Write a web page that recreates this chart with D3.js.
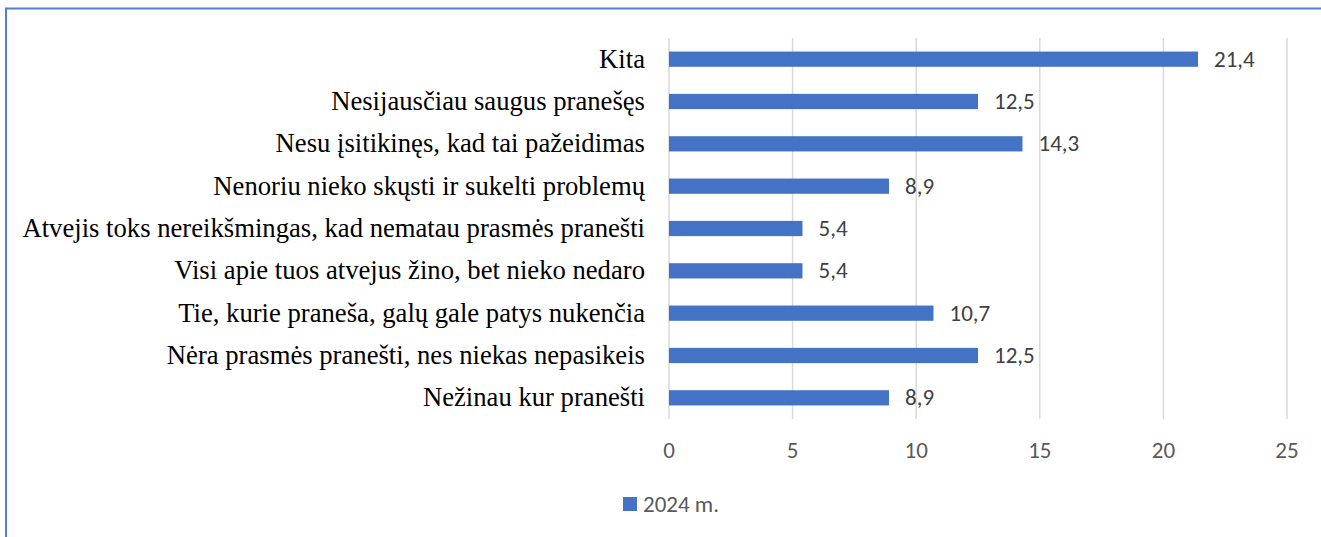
<!DOCTYPE html>
<html><head><meta charset="utf-8">
<script src="https://cdn.jsdelivr.net/npm/d3@7"></script>
<style>body{margin:0;background:#fff;}svg{display:block;}</style>
</head><body>
<script>
const categories = ["Kita","Nesijausčiau saugus pranešęs","Nesu įsitikinęs, kad tai pažeidimas","Nenoriu nieko skųsti ir sukelti problemų","Atvejis toks nereikšmingas, kad nematau prasmės pranešti","Visi apie tuos atvejus žino, bet nieko nedaro","Tie, kurie praneša, galų gale patys nukenčia","Nėra prasmės pranešti, nes niekas nepasikeis","Nežinau kur pranešti"];
const values = [21.4,12.5,14.3,8.9,5.4,5.4,10.7,12.5,8.9];
const tickValues = [0,5,10,15,20,25];
const seriesName = "2024 m.";

const SERIF='"Liberation Serif"';
const SANS='"Carlito"';
const W=1321,H=537;
const svg=d3.select("body").append("svg").attr("width",W).attr("height",H);
svg.append("rect").attr("x",6).attr("y",8.5).attr("width",W+20).attr("height",H+20)
  .attr("fill","none").attr("stroke","#4F7FD0").attr("stroke-width",2);

const x=d3.scaleLinear().domain([0,25]).range([669,1287]);
const y=d3.scaleBand().domain(categories).range([38,419]).paddingInner(0.64).paddingOuter(0.32);

svg.append("g").selectAll("line").data(tickValues).join("line")
  .attr("x1",d=>x(d)).attr("x2",d=>x(d)).attr("y1",38).attr("y2",419)
  .attr("stroke","#d9d9d9").attr("stroke-width",1.5);

svg.append("g").selectAll("rect").data(values).join("rect")
  .attr("x",x(0)).attr("y",(d,i)=>y(categories[i])).attr("width",d=>x(d)-x(0))
  .attr("height",y.bandwidth()).attr("fill","#4472C4");

svg.append("g").selectAll("text").data(values).join("text")
  .style("font-family",SANS)
  .attr("x",d=>x(d)+16).attr("y",(d,i)=>y(categories[i])+y.bandwidth()/2)
  .attr("dy","0.32em").attr("font-size",23)
  .attr("fill","#404040").text(d=>d.toFixed(1).replace(".",","));

const cats=svg.append("g").selectAll("text").data(categories).join("text")
  .style("font-family",SERIF)
  .attr("x",645).attr("y",d=>y(d)+y.bandwidth()/2).attr("dy","0.32em")
  .attr("text-anchor","end").attr("font-size",22).attr("fill","#000").text(d=>d);
let maxW=0; cats.each(function(){maxW=Math.max(maxW,this.getComputedTextLength());});
const fs=22*623/maxW; cats.attr("font-size",fs);

svg.append("g").selectAll("text").data(tickValues).join("text")
  .style("font-family",SANS)
  .attr("x",d=>x(d)).attr("y",450.5).attr("dy","0.32em").attr("text-anchor","middle")
  .attr("font-size",23).attr("fill","#595959").text(d=>d);

const lg=svg.append("g");
lg.append("rect").attr("x",623).attr("y",497).attr("width",14).attr("height",14).attr("fill","#4472C4");
lg.append("text").style("font-family",SANS).attr("x",643).attr("y",504.5).attr("dy","0.32em")
  .attr("font-size",23).attr("fill","#595959").text(seriesName);
</script>
</body></html>
